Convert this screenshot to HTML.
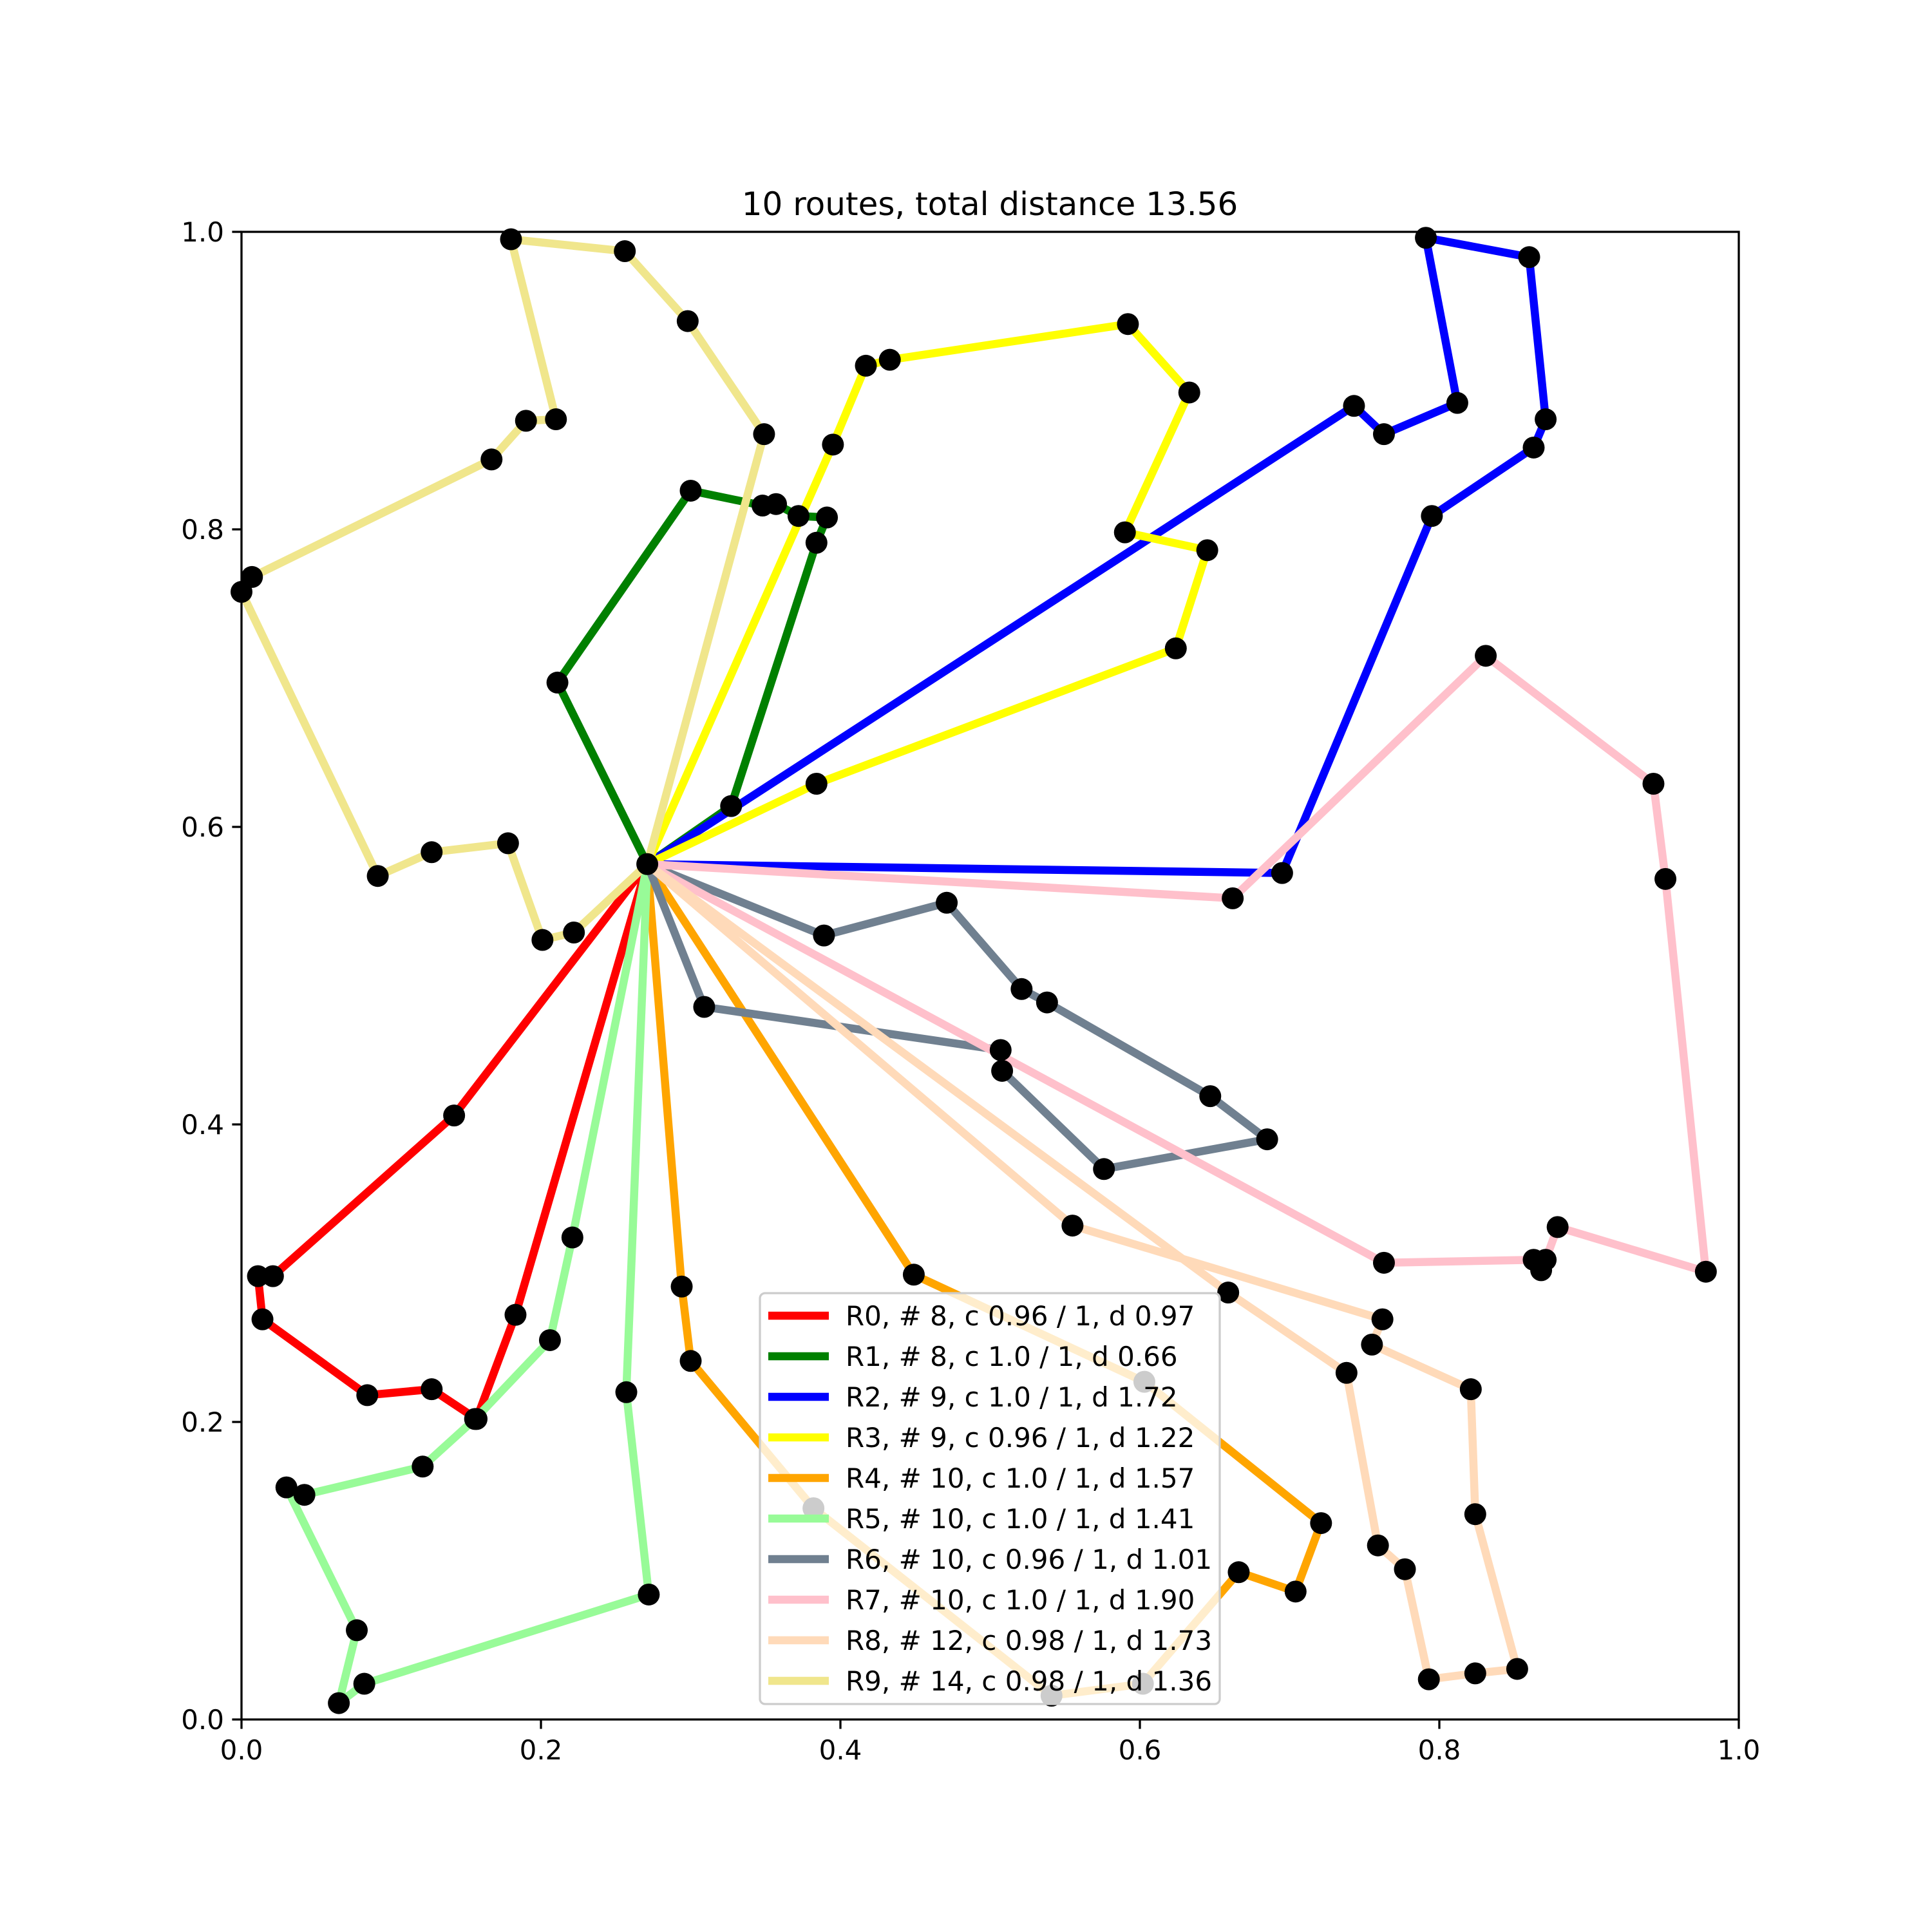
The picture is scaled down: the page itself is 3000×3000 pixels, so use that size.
<!DOCTYPE html>
<html><head><meta charset="utf-8"><style>
html,body{margin:0;padding:0;background:#fff;}
svg{display:block;font-family:"DejaVu Sans","Liberation Sans",sans-serif;}
</style></head><body>
<svg id="chart" width="3000" height="3000" viewBox="0 0 3000 3000" xmlns="http://www.w3.org/2000/svg">
<rect width="3000" height="3000" fill="#fff"/>
<text x="1537" y="334" font-size="50" text-anchor="middle">10 routes, total distance 13.56</text>
<g id="lines"></g>
<g id="pts"></g>
<g id="axes"></g>
<g id="legend"></g>
</svg>
<script>
const depot = [0.271, 0.575];
const routeNames = ["R0","R1","R2","R3","R4","R5","R6","R7","R8","R9"];
const routeColors = ["#ff0000","#008000","#0000ff","#ffff00","#ffa500","#98fb98","#708090","#ffc0cb","#ffdab9","#f0e68c"];
const routeLabels = ["R0, # 8, c 0.96 / 1, d 0.97","R1, # 8, c 1.0 / 1, d 0.66","R2, # 9, c 1.0 / 1, d 1.72","R3, # 9, c 0.96 / 1, d 1.22","R4, # 10, c 1.0 / 1, d 1.57","R5, # 10, c 1.0 / 1, d 1.41","R6, # 10, c 0.96 / 1, d 1.01","R7, # 10, c 1.0 / 1, d 1.90","R8, # 12, c 0.98 / 1, d 1.73","R9, # 14, c 0.98 / 1, d 1.36"];
const r0 = [[0.142,0.406],[0.021,0.298],[0.011,0.298],[0.014,0.269],[0.084,0.218],[0.127,0.222],[0.157,0.202],[0.183,0.272]];
const r1 = [[0.211,0.697],[0.300,0.826],[0.348,0.816],[0.357,0.817],[0.372,0.809],[0.391,0.808],[0.384,0.791],[0.327,0.614]];
const r2 = [[0.743,0.883],[0.763,0.864],[0.812,0.885],[0.791,0.996],[0.860,0.983],[0.871,0.874],[0.863,0.855],[0.795,0.809],[0.695,0.569]];
const r3 = [[0.395,0.857],[0.417,0.910],[0.433,0.914],[0.592,0.938],[0.633,0.892],[0.590,0.798],[0.645,0.786],[0.624,0.720],[0.384,0.629]];
const r4 = [[0.449,0.299],[0.603,0.227],[0.721,0.132],[0.704,0.086],[0.666,0.099],[0.602,0.024],[0.541,0.016],[0.382,0.142],[0.300,0.241],[0.294,0.291]];
const r5 = [[0.221,0.324],[0.206,0.255],[0.156,0.202],[0.121,0.170],[0.042,0.151],[0.030,0.156],[0.077,0.060],[0.065,0.011],[0.082,0.024],[0.272,0.084],[0.257,0.220]];
const r6 = [[0.389,0.527],[0.471,0.549],[0.521,0.491],[0.538,0.482],[0.647,0.419],[0.685,0.390],[0.576,0.370],[0.508,0.436],[0.507,0.450],[0.309,0.479]];
const r7 = [[0.662,0.552],[0.831,0.715],[0.943,0.629],[0.951,0.565],[0.978,0.301],[0.879,0.331],[0.871,0.309],[0.868,0.302],[0.863,0.309],[0.763,0.307]];
const r8 = [[0.555,0.332],[0.762,0.269],[0.755,0.252],[0.821,0.222],[0.824,0.138],[0.852,0.034],[0.824,0.031],[0.793,0.027],[0.777,0.101],[0.759,0.117],[0.738,0.233],[0.659,0.287]];
const r9 = [[0.349,0.864],[0.298,0.940],[0.256,0.987],[0.180,0.995],[0.210,0.874],[0.190,0.873],[0.167,0.847],[0.007,0.768],[0.000,0.758],[0.091,0.567],[0.127,0.583],[0.178,0.589],[0.201,0.524],[0.222,0.529]];
const routes = [r0,r1,r2,r3,r4,r5,r6,r7,r8,r9];
const xTicks = [0,0.2,0.4,0.6,0.8,1.0];
const yTicks = [0,0.2,0.4,0.6,0.8,1.0];
const tickLabels = ["0.0","0.2","0.4","0.6","0.8","1.0"];

const NS="http://www.w3.org/2000/svg";
const L=375,R=2700,T=360,B=2670;
function X(v){return L+v*(R-L);}
function Y(v){return B-v*(B-T);}
function mk(tag,attrs,parent){const e=document.createElementNS(NS,tag);for(const k in attrs)e.setAttribute(k,attrs[k]);parent.appendChild(e);return e;}
const gl=document.getElementById('lines'),gp=document.getElementById('pts'),ga=document.getElementById('axes'),gg=document.getElementById('legend');
routes.forEach((r,i)=>{
  const pts=[depot,...r,depot].map(p=>X(p[0]).toFixed(1)+','+Y(p[1]).toFixed(1)).join(' ');
  const pl=mk('polyline',{points:pts,fill:'none',stroke:routeColors[i],'stroke-width':12.5,'stroke-linejoin':'round','stroke-linecap':'square'},gl);
  
  
});
routes.forEach((r,i)=>{
  r.forEach((p,j)=>{
    const c=mk('circle',{cx:X(p[0]),cy:Y(p[1]),r:17,fill:'#000'},gp);
    
    
  });
});
const dc=mk('circle',{cx:X(depot[0]),cy:Y(depot[1]),r:17,fill:'#000'},gp);


const fr=mk('rect',{x:L,y:T,width:R-L,height:B-T,fill:'none',stroke:'#000','stroke-width':3.3},ga);


xTicks.forEach((v,i)=>{
  mk('line',{x1:X(v),x2:X(v),y1:B,y2:B+14.6,stroke:'#000','stroke-width':3.3},ga);
  const t=mk('text',{x:X(v),y:B+62,'font-size':42,'text-anchor':'middle'},ga);
  t.textContent=tickLabels[i];
  
  
});
yTicks.forEach((v,i)=>{
  mk('line',{x1:L-14.6,x2:L,y1:Y(v),y2:Y(v),stroke:'#000','stroke-width':3.3},ga);
  const t=mk('text',{x:L-27,y:Y(v)+15,'font-size':42,'text-anchor':'end'},ga);
  t.textContent=tickLabels[i];
  
  
});
const lb=mk('rect',{x:1180,y:2008,width:714,height:638,rx:8,fill:'#fff','fill-opacity':0.8,stroke:'#cccccc','stroke-width':3.3},gg);


routeLabels.forEach((s,i)=>{
  const y=2043+i*63;
  const h=mk('line',{x1:1193,x2:1287,y1:y,y2:y,stroke:routeColors[i],'stroke-width':12.5},gg);
  
  
  const t=mk('text',{x:1313,y:y+15,'font-size':42},gg);
  t.textContent=s;
  
  
});
</script>
</body></html>
